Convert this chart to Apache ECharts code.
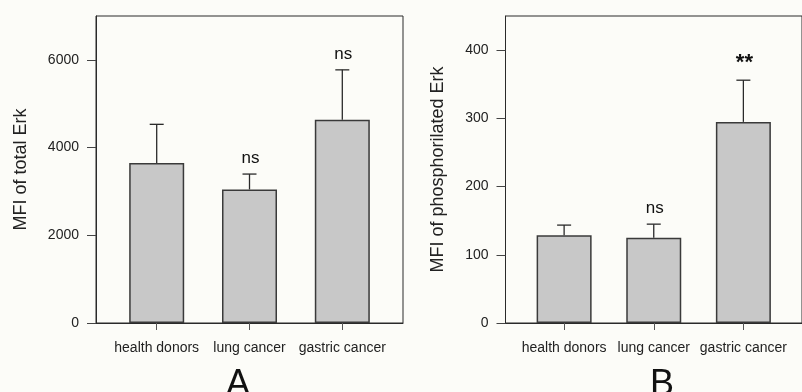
<!DOCTYPE html>
<html>
<head>
<meta charset="utf-8">
<script src="https://cdn.jsdelivr.net/npm/echarts@6/dist/echarts.min.js"></script>
<style>html,body{margin:0;padding:0;background:#fcfcf8;}#c{width:802px;height:392px;}</style>
</head>
<body>
<div id="c"></div>
<script>
const categories = ['health donors', 'lung cancer', 'gastric cancer'];
const totalErkMean = [3647, 3045, 4637];
const totalErkUpper = [4530, 3396, 5772];
const totalErkNotes = ['', 'ns', 'ns'];
const phosErkMean = [128.8, 124.9, 294.8];
const phosErkUpper = [143.5, 144.9, 355.9];
const phosErkNotes = ['', 'ns', '**'];
const yTicksA = [0, 2000, 4000, 6000];
const yTicksB = [0, 100, 200, 300, 400];
const catIdx = [0, 1, 2];

const FONT = 'Liberation Sans, Arial, sans-serif';
const DARK = '#2a2a2a';

function xAxisDef(gi) {
  return {
    type: 'value', gridIndex: gi, min: -0.654, max: 2.654,
    splitLine: { show: false },
    axisLine: { show: true, onZero: false, lineStyle: { color: DARK, width: 1 } },
    axisTick: { show: true, customValues: catIdx, length: 7, lineStyle: { color: '#555' } },
    axisLabel: { show: true, customValues: catIdx, margin: 18, fontSize: 14, fontFamily: FONT, color: '#222',
      formatter: v => categories[Math.round(v)] }
  };
}
function yAxisDef(gi, max, ticks, name, gap) {
  return {
    type: 'value', gridIndex: gi, min: 0, max: max,
    name: name, nameLocation: 'middle', nameGap: gap,
    nameTextStyle: { fontSize: 18, fontFamily: FONT, color: '#222' },
    splitLine: { show: false },
    axisLine: { show: true, onZero: false, lineStyle: { color: DARK, width: 1 } },
    axisTick: { show: true, customValues: ticks, length: 9, lineStyle: { color: '#444' } },
    axisLabel: { show: true, customValues: ticks, margin: 17, fontSize: 14, fontFamily: FONT, color: '#222',
      formatter: v => String(v) }
  };
}
function barSeries(gi, means) {
  return {
    type: 'bar', xAxisIndex: gi, yAxisIndex: gi, barWidth: 55,
    data: means.map((v, i) => [i, v]),
    itemStyle: { color: '#c8c8c8', borderColor: '#3a3a3a', borderWidth: 1.5 },
    silent: true, z: 2
  };
}
function errSeries(gi, means, uppers, notes, starSize) {
  return {
    type: 'custom', xAxisIndex: gi, yAxisIndex: gi, z: 3, silent: true,
    data: means.map((v, i) => [i, v, uppers[i]]),
    renderItem: function (params, api) {
      const i = api.value(0);
      const p0 = api.coord([i, api.value(1)]);
      const p1 = api.coord([i, api.value(2)]);
      const note = notes[i];
      const children = [
        { type: 'line', shape: { x1: p0[0], y1: p0[1], x2: p1[0], y2: p1[1] }, style: { stroke: DARK, lineWidth: 1.3 } },
        { type: 'line', shape: { x1: p1[0] - 7, y1: p1[1], x2: p1[0] + 7, y2: p1[1] }, style: { stroke: DARK, lineWidth: 1.3 } }
      ];
      if (note) {
        const isStar = note.indexOf('*') >= 0;
        children.push({ type: 'text', style: {
          text: note, x: p1[0] + 1, y: isStar ? p1[1] - 17 : p1[1] - 15.5,
          align: 'center', verticalAlign: 'middle',
          font: (isStar ? 'bold ' + starSize + 'px ' : '17px ') + FONT, fill: '#111'
        }});
      }
      return { type: 'group', children: children };
    }
  };
}

const chart = echarts.init(document.getElementById('c'), null, { renderer: 'canvas' });
chart.setOption({
  backgroundColor: '#fcfcf8',
  animation: false,
  grid: [
    { left: 96, top: 16, width: 307, height: 307, show: true, borderColor: DARK, borderWidth: 1, backgroundColor: 'transparent' },
    { left: 505.5, top: 16, width: 307, height: 307, show: true, borderColor: DARK, borderWidth: 1, backgroundColor: 'transparent' }
  ],
  xAxis: [xAxisDef(0), xAxisDef(1)],
  yAxis: [
    yAxisDef(0, 7000, yTicksA, 'MFI of total Erk', 66),
    yAxisDef(1, 450, yTicksB, 'MFI of phosphorilated Erk', 58)
  ],
  series: [
    barSeries(0, totalErkMean),
    errSeries(0, totalErkMean, totalErkUpper, totalErkNotes, 22),
    barSeries(1, phosErkMean),
    errSeries(1, phosErkMean, phosErkUpper, phosErkNotes, 22)
  ],
  graphic: [
    { type: 'text', left: 226, top: 367, style: { text: 'A', font: '36px ' + FONT, fill: '#111' } },
    { type: 'text', left: 650, top: 367, style: { text: 'B', font: '36px ' + FONT, fill: '#111' } }
  ]
});
</script>
</body>
</html>
